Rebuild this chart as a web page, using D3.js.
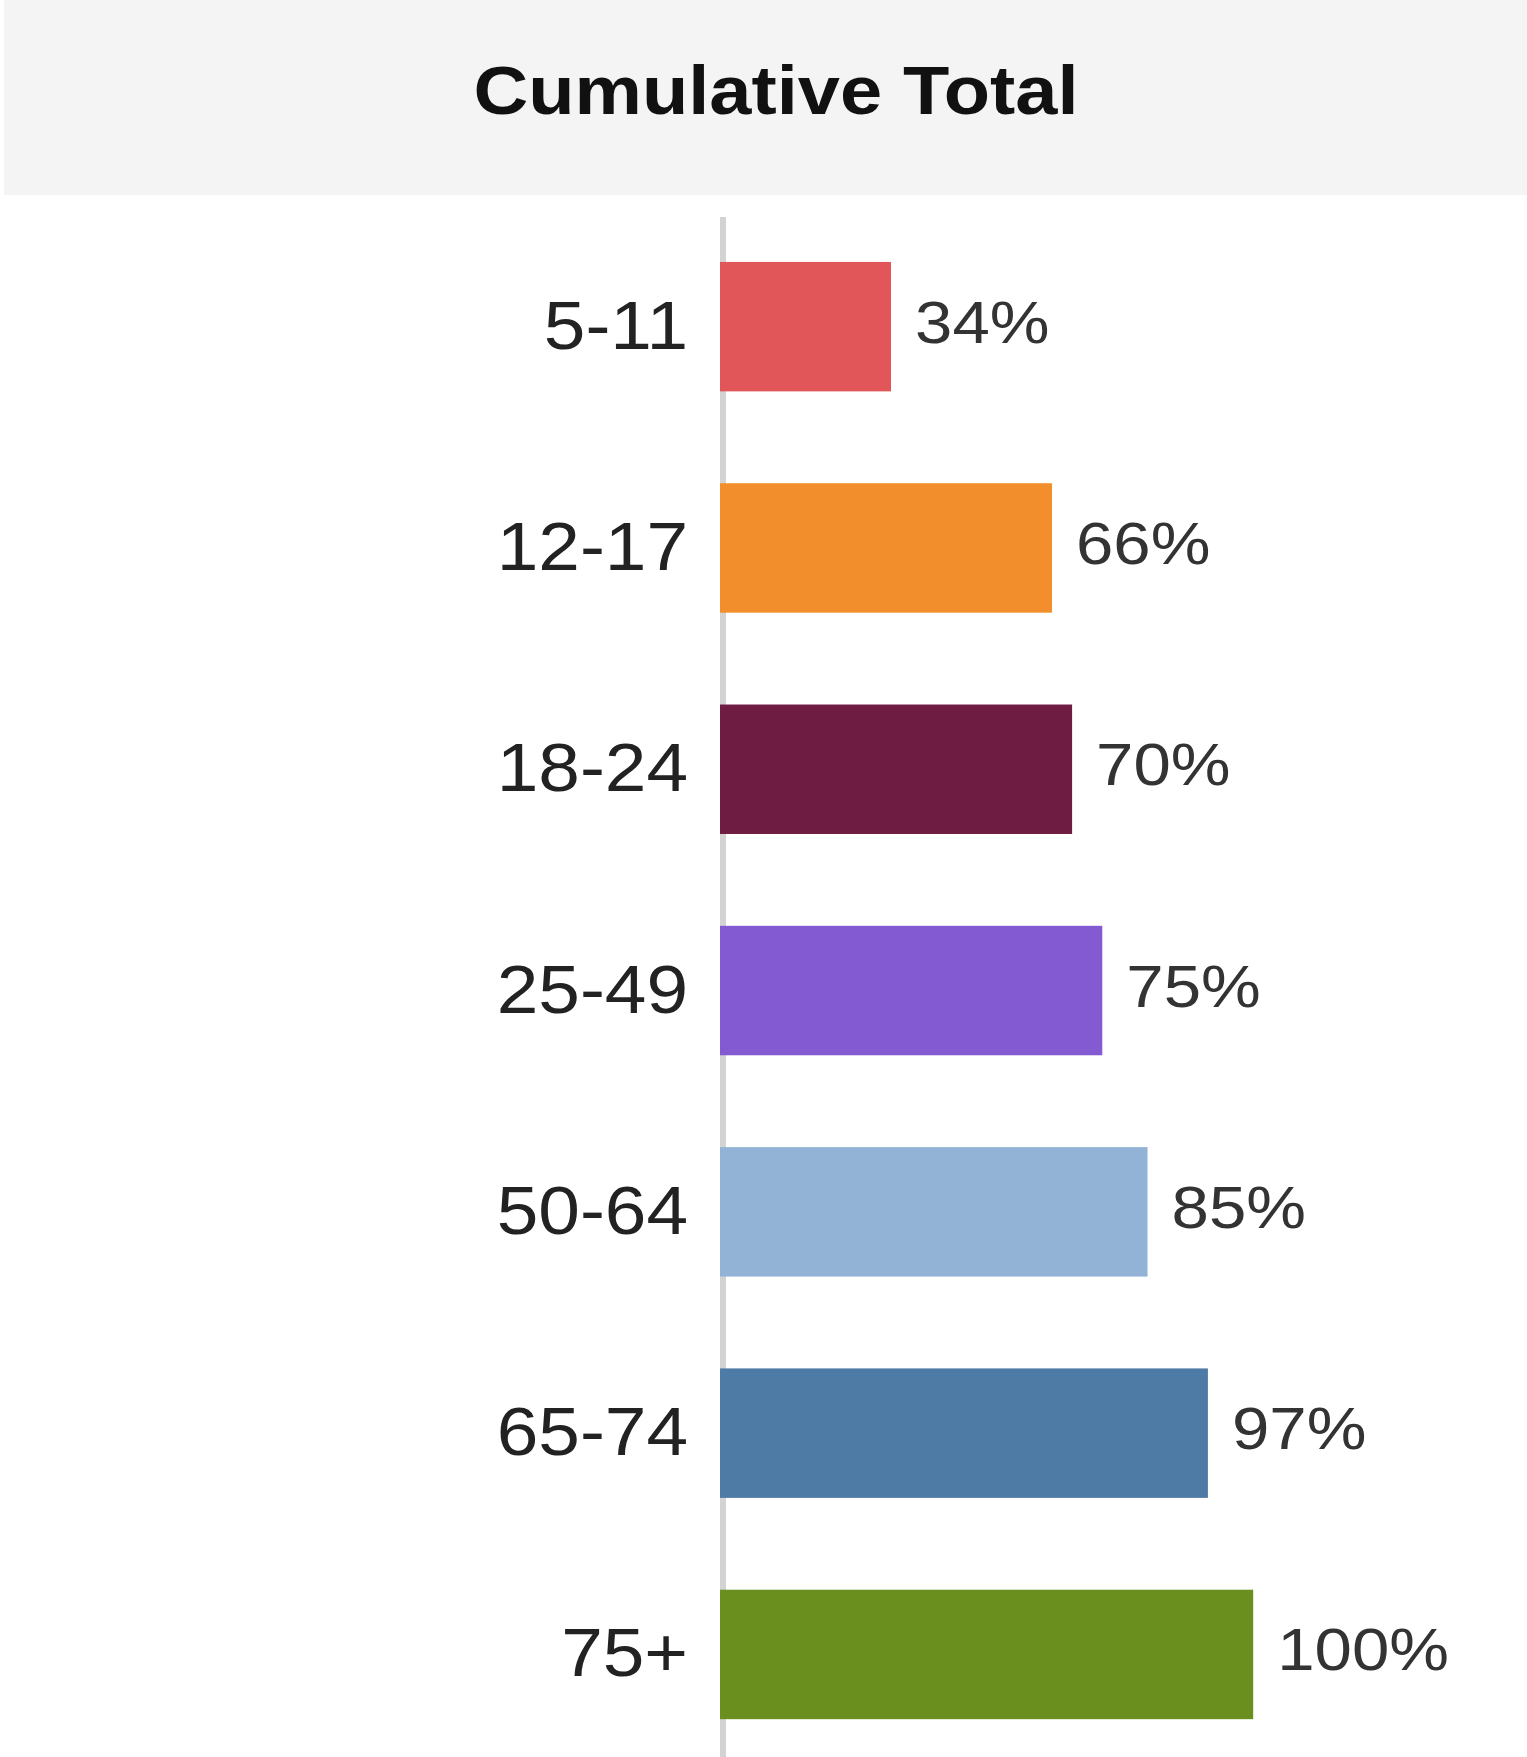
<!DOCTYPE html>
<html>
<head>
<meta charset="utf-8">
<script src="https://cdn.jsdelivr.net/npm/d3@7.9.0/dist/d3.min.js"></script>
<style>
  body { margin: 0; background: #fff; }
  svg { display: block; font-family: "Liberation Sans", Arial, sans-serif; }
</style>
</head>
<body>
<svg id="chart" width="1527" height="1757"></svg>
<script>
// age groups, bar lengths and the printed labels
const categories = ['5-11', '12-17', '18-24', '25-49', '50-64', '65-74', '75+'];
const barValues = [34, 66, 70, 76, 85, 97, 106];
const valueLabels = ['34%', '66%', '70%', '75%', '85%', '97%', '100%'];
const colors = ['#e15759', '#f28e2c', '#6e1c41', '#845ad3', '#93b3d6', '#4e7aa6', '#6a8f1f'];

const svg = d3.select('#chart');

// header
svg.append('rect')
  .attr('x', 4).attr('y', 0)
  .attr('width', 1523).attr('height', 195)
  .attr('fill', '#f4f4f4');

svg.append('text')
  .attr('transform', 'translate(776,114) scale(1.115,1)')
  .attr('text-anchor', 'middle')
  .attr('font-size', 68)
  .attr('font-weight', 'bold')
  .attr('fill', '#111')
  .text('Cumulative Total');

const x0 = 720;
let x = d3.scaleLinear().domain([0, 100]).range([x0, x0 + 503]);
let y = d3.scaleBand()
  .domain(categories)
  .range([216, 216 + 7 * 221.3])
  .paddingInner(0.415)
  .paddingOuter(0.2075);

// axis line
svg.append('rect')
  .attr('x', x0).attr('y', 217)
  .attr('width', 6).attr('height', 1757 - 217)
  .attr('fill', '#d3d3d3');

svg.selectAll('rect.bar')
  .data(categories)
  .join('rect')
  .attr('class', 'bar')
  .attr('x', x(0))
  .attr('y', d => y(d))
  .attr('width', (d, i) => x(barValues[i]) - x(0))
  .attr('height', y.bandwidth())
  .attr('fill', (d, i) => colors[i]);

// category labels
svg.selectAll('text.cat')
  .data(categories)
  .join('text')
  .attr('class', 'cat')
  .attr('transform', d => `translate(688,${y(d) + y.bandwidth() / 2 + 22}) scale(1.1,1)`)
  .attr('text-anchor', 'end')
  .attr('font-size', 68)
  .attr('fill', '#222')
  .text(d => d);

// value labels
svg.selectAll('text.val')
  .data(categories)
  .join('text')
  .attr('class', 'val')
  .attr('transform', (d, i) => `translate(${x(barValues[i]) + 24},${y(d) + y.bandwidth() / 2 + 16}) scale(1.12,1)`)
  .attr('font-size', 60)
  .attr('fill', '#333')
  .text((d, i) => valueLabels[i]);
</script>
</body>
</html>
